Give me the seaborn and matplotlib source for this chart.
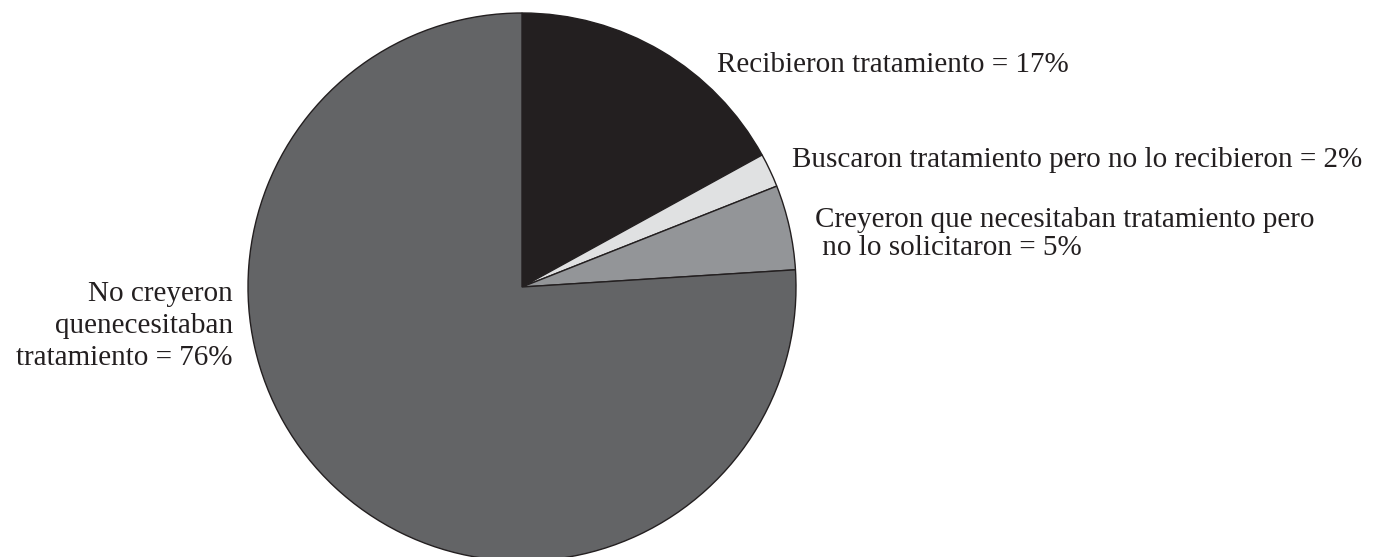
import matplotlib
matplotlib.use("Agg")
import matplotlib.pyplot as plt
import seaborn as sns

# data
labels = ["Recibieron tratamiento = 17%",
          "Buscaron tratamiento pero no lo recibieron = 2%",
          "Creyeron que necesitaban tratamiento pero\n no lo solicitaron = 5%",
          "No creyeron\nquenecesitaban\ntratamiento = 76%"]
shares = [17, 2, 5, 76]
colors = ["#231f20", "#e0e1e2", "#939598", "#636466"]

sns.set_theme(style="white")
plt.rcParams['font.family'] = ['Liberation Serif', 'DejaVu Serif']

fig = plt.figure(figsize=(13.85, 5.57), dpi=100)
ax = fig.add_axes([0, 0, 1, 1])

ax.pie(shares, colors=colors, startangle=90, counterclock=False,
       center=(522, 270), radius=274,
       wedgeprops=dict(edgecolor='#231f20', linewidth=1.0))
ax.set_xlim(0, 1385)
ax.set_ylim(0, 557)
ax.set_aspect('equal')
ax.axis('off')

txt = dict(fontsize=21, color='#231f20')
ax.text(717, 485, labels[0], ha='left', va='baseline', **txt)
ax.text(792, 390, labels[1], ha='left', va='baseline', **txt)
ax.text(815, 323, labels[2], ha='left', va='center', linespacing=1.1, **txt)
ax.text(233, 231, labels[3], ha='right', va='center', multialignment='right',
        linespacing=1.3, **txt)

fig.savefig("out.png", dpi=100)
